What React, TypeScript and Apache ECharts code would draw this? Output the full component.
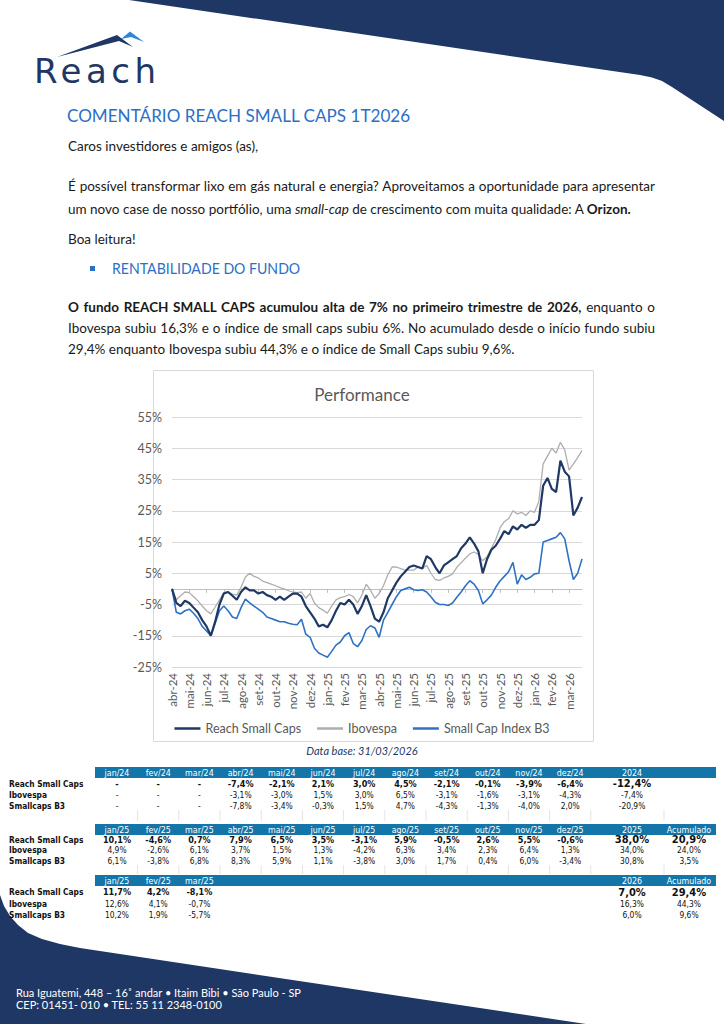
import React, { useEffect, useRef } from "react";
import * as echarts from "echarts";

// ---------- chart data (weekly readings, 4 per month) ----------
const months = [
  "abr-24", "mai-24", "jun-24", "jul-24", "ago-24", "set-24", "out-24", "nov-24",
  "dez-24", "jan-25", "fev-25", "mar-25", "abr-25", "mai-25", "jun-25", "jul-25",
  "ago-25", "set-25", "out-25", "nov-25", "dez-25", "jan-26", "fev-26", "mar-26",
];

const reachSmallCaps = [
  0, -4.5, -5.5, -3.8,
  -4.5, -6, -7.5, -10,
  -12, -15, -10.5, -5,
  -1.5, -1, -2.2, -3.5,
  -1, 0.5, -0.5, -0.5,
  -1.5, -1, -2, -2.5,
  -3.5, -2.5, -3.5, -2.5,
  -1.5, -1.5, -2.5, -5.5,
  -7.5, -9.5, -12, -11.5,
  -12.3, -10, -7, -4.5,
  -5, -3.5, -5, -8,
  -5.5, -2, -5.5, -9.5,
  -10.5, -7.5, -3, -0.5,
  2, 4, 5.5, 7,
  7.5, 7, 6.5, 10.5,
  9.5, 7, 5, 7.5,
  8.5, 9.5, 10.5, 13,
  14.5, 16.5, 14.5, 12,
  5, 9.5, 12.5, 13.8,
  16, 18.5, 17.5, 20,
  19, 20.5, 19.5, 20.5,
  20.5, 22, 33, 35.5,
  32, 31, 41, 37.5,
  36, 23.5, 26, 29.4,
];

const ibovespa = [
  0, -3.5, -2.2, -1,
  -1.2, -2.5, -3.8, -5.5,
  -7, -8, -5.8, -3.5,
  -1.2, -1, -1.7, -2,
  0.5, 3.8, 5, 4,
  3.5, 2.5, 2, 1.5,
  1, 0.4, 0, -0.6,
  -1, -1.2, -1, -3,
  -1.5, -4.5, -6, -6.8,
  -7.8, -5.5, -3.5, -2.8,
  -2.5, -1.8, -2.5, -4.5,
  -2, 1.5, -0.5, -3,
  -1.5, 1, 4.5, 7,
  7, 6.5, 6, 6,
  6, 7, 6.5, 7.5,
  5, 3, 2.7, 3.5,
  4, 4.8, 6.9, 8.4,
  9.8, 11.2, 11.8, 11,
  9, 10.3, 13, 15.7,
  19.5, 21.5, 22.5, 25,
  24, 24.5, 23.5, 25,
  24.5, 28, 40, 42.5,
  45, 43.5, 46.9, 44.5,
  38, 40, 42, 44.3,
];

const smallCapIndexB3 = [
  0, -7.5, -8, -7,
  -6.5, -7.8, -9.5, -12,
  -13.5, -15, -11, -7,
  -5.5, -7, -9, -9.5,
  -6, -3.3, -4.5, -5.5,
  -6.5, -7.5, -9, -9.5,
  -10, -10.5, -10.5, -11,
  -11.3, -11.5, -9.7, -14.5,
  -15.5, -19, -20.5, -21.2,
  -21.9, -20, -18, -17,
  -15, -14, -17.5, -18.5,
  -16.5, -13, -11.8, -12.5,
  -15.5, -10, -7.5, -5,
  -2.5, -0.5, 0, 0.5,
  -0.3, -0.5, -0.3, -1,
  -2.5, -4.3, -5, -5,
  -5.3, -4.5, -2.7, -1,
  1, 2.6, 1.5, -0.5,
  -4.8, -3.5, -2, 0.5,
  2.5, 4, 5.5, 8.5,
  1.5, 4.5, 3, 3.7,
  4.8, 5, 15, 15.5,
  16, 16.5, 18, 16,
  9, 3, 5, 9.6,
];

const seriesNames = ["Reach Small Caps", "Ibovespa", "Small Cap Index B3"];
const rowLabels = ["Reach Small Caps", "Ibovespa", "Smallcaps B3"];

// ---------- monthly return tables ----------
const header2024 = ["jan/24", "fev/24", "mar/24", "abr/24", "mai/24", "jun/24", "jul/24", "ago/24", "set/24", "out/24", "nov/24", "dez/24"];
const reach2024 = ["-", "-", "-", "-7,4%", "-2,1%", "2,1%", "3,0%", "4,5%", "-2,1%", "-0,1%", "-3,9%", "-6,4%"];
const ibov2024 = ["-", "-", "-", "-3,1%", "-3,0%", "1,5%", "3,0%", "6,5%", "-3,1%", "-1,6%", "-3,1%", "-4,3%"];
const small2024 = ["-", "-", "-", "-7,8%", "-3,4%", "-0,3%", "1,5%", "4,7%", "-4,3%", "-1,3%", "-4,0%", "2,0%"];
const year2024 = ["2024", "-12,4%", "-7,4%", "-20,9%"];

const header2025 = ["jan/25", "fev/25", "mar/25", "abr/25", "mai/25", "jun/25", "jul/25", "ago/25", "set/25", "out/25", "nov/25", "dez/25"];
const reach2025 = ["10,1%", "-4,6%", "0,7%", "7,9%", "6,5%", "3,5%", "-3,1%", "5,9%", "-0,5%", "2,6%", "5,5%", "-0,6%"];
const ibov2025 = ["4,9%", "-2,6%", "6,1%", "3,7%", "1,5%", "1,3%", "-4,2%", "6,3%", "3,4%", "2,3%", "6,4%", "1,3%"];
const small2025 = ["6,1%", "-3,8%", "6,8%", "8,3%", "5,9%", "1,1%", "-3,8%", "3,0%", "1,7%", "0,4%", "6,0%", "-3,4%"];
const year2025 = ["2025", "38,0%", "34,0%", "30,8%"];
const accum2025 = ["Acumulado", "20,9%", "24,0%", "3,5%"];

const header2026 = ["jan/25", "fev/25", "mar/25"];
const reach2026 = ["11,7%", "4,2%", "-8,1%"];
const ibov2026 = ["12,6%", "4,1%", "-0,7%"];
const small2026 = ["10,2%", "1,9%", "-5,7%"];
const year2026 = ["2026", "7,0%", "16,3%", "6,0%"];
const accum2026 = ["Acumulado", "29,4%", "44,3%", "9,6%"];

const NAVY = "#1f3764";
const TEAL = "#1475a8";
const TITLE_BLUE = "#2c6fc6";
const NARROW = "'Liberation Sans Narrow', 'Arial Narrow', 'DejaVu Sans Condensed', sans-serif";
const BODY = "Lato, 'Noto Sans', sans-serif";

const categories = months.flatMap((m) => [m, `${m} s2`, `${m} s3`, `${m} s4`]);

function txt(x: number, y: number, text: string, size: number, opts: any = {}) {
  return {
    type: "text",
    x,
    y,
    silent: true,
    style: {
      text,
      fill: opts.fill || "#111",
      fontSize: size,
      fontWeight: opts.bold ? "bold" : "normal",
      fontStyle: opts.italic ? "italic" : "normal",
      fontFamily: opts.font || NARROW,
      textAlign: opts.align || "center",
      textVerticalAlign: "middle",
      align: opts.align || "center",
      verticalAlign: "middle",
    },
  };
}

function buildTable(
  g: any[],
  barY: number,
  rowYs: number[],
  header: string[],
  rows: string[][],
  year: string[],
  accum: string[] | null
) {
  const colX = (k: number) => 117 + 41.2 * k;
  g.push({ type: "rect", shape: { x: 95, y: barY, width: 621, height: 11 }, style: { fill: TEAL }, silent: true });
  const hy = barY + 5.5;
  header.forEach((h, k) => g.push(txt(colX(k), hy, h, 8.8, { fill: "#fff" })));
  g.push(txt(632, hy, year[0], 8.8, { fill: "#fff" }));
  if (accum) g.push(txt(689, hy, accum[0], 8.8, { fill: "#fff" }));
  rows.forEach((row, r) => {
    const y = rowYs[r];
    const bold = r === 0;
    g.push(txt(9, y, rowLabels[r], 8.3, { bold: true, align: "left" }));
    row.forEach((v, k) => g.push(txt(colX(k), y, v, bold ? 9 : 8.4, { bold })));
    g.push(txt(632, y, year[r + 1], bold ? 11 : 8.4, { bold }));
    if (accum) g.push(txt(689, y, accum[r + 1], bold ? 11 : 8.4, { bold }));
  });
}

function buildGraphics() {
  const g: any[] = [];
  // header band
  g.push({
    type: "polygon",
    silent: true,
    shape: { points: [[129, 0], [640, 75], [652, 77.5], [662, 81], [672, 87], [724, 121], [724, 0]] },
    style: { fill: NAVY },
  });
  // footer band
  g.push({
    type: "polygon",
    silent: true,
    shape: {
      points: [[0, 895], [4, 906], [10, 916], [18, 925], [28, 933], [42, 939], [60, 944], [80, 948], [586, 1024], [0, 1024]],
    },
    style: { fill: NAVY },
  });
  // logo mountains
  g.push({ type: "polygon", silent: true, shape: { points: [[57, 57], [117, 35], [133, 47], [119, 41]] }, style: { fill: NAVY } });
  g.push({ type: "polygon", silent: true, shape: { points: [[121, 39], [130, 31.5], [144, 42], [131, 37]] }, style: { fill: "#2f86d6" } });
  // chart frame
  g.push({ type: "rect", silent: true, shape: { x: 153.5, y: 370.5, width: 440, height: 371 }, style: { fill: "none", stroke: "#d9d9d9", lineWidth: 1 } });
  g.push(txt(362, 750, "Data base: 31/03/2026", 11, { italic: true, fill: NAVY, font: BODY }));
  // tables
  buildTable(g, 767, [783.5, 795, 806], header2024, [reach2024, ibov2024, small2024], year2024, null);
  buildTable(g, 824, [839.5, 850, 860.5], header2025, [reach2025, ibov2025, small2025], year2025, accum2025);
  buildTable(g, 875, [892, 904, 914.5], header2026, [reach2026, ibov2026, small2026], year2026, accum2026);
  // faint cell separators
  const seps = [...Array.from({ length: 12 }, (_, k) => 137.6 + 41.2 * k), 664];
  seps.forEach((x) => {
    g.push({ type: "line", silent: true, shape: { x1: x, y1: 810, x2: x, y2: 821 }, style: { stroke: "#e4e4e4", lineWidth: 1 } });
    g.push({ type: "line", silent: true, shape: { x1: x, y1: 865, x2: x, y2: 874 }, style: { stroke: "#e4e4e4", lineWidth: 1 } });
  });
  // footer text
  g.push(txt(16, 992.5, "Rua Iguatemi, 448 – 16˚ andar • Itaim Bibi • São Paulo - SP", 11, { fill: "#fff", align: "left", font: BODY }));
  g.push(txt(16, 1004.5, "CEP: 01451- 010 • TEL: 55 11 2348-0100", 11, { fill: "#fff", align: "left", font: BODY }));
  return g;
}

function buildOption() {
  return {
    animation: false,
    textStyle: { fontFamily: BODY },
    title: {
      text: "Performance",
      left: "center",
      top: 381,
      textStyle: { fontSize: 17, fontWeight: "normal", color: "#595959", fontFamily: BODY },
    },
    grid: { left: 172, top: 417, width: 410, height: 250, containLabel: false },
    legend: {
      top: 717,
      left: "center",
      itemWidth: 26,
      itemHeight: 2.5,
      itemGap: 16,
      textStyle: { fontSize: 12.5, color: "#595959" },
      data: seriesNames.map((n) => ({ name: n, icon: "rect" })),
    },
    xAxis: {
      type: "category",
      data: categories,
      boundaryGap: false,
      axisLine: { lineStyle: { color: "#bfbfbf" } },
      axisTick: { show: true, interval: 3, length: 4, lineStyle: { color: "#bfbfbf" } },
      axisLabel: {
        interval: 3,
        rotate: 90,
        margin: 6,
        fontSize: 11.5,
        color: "#595959",
        formatter: (v: string) => v.split(" ")[0],
      },
      splitLine: { show: false },
    },
    yAxis: {
      type: "value",
      min: -25,
      max: 55,
      interval: 10,
      axisLine: { show: false },
      axisTick: { show: false },
      axisLabel: { formatter: "{value}%", fontSize: 12.5, color: "#595959", margin: 10 },
      splitLine: { lineStyle: { color: "#d9d9d9", width: 1 } },
    },
    series: [
      {
        name: seriesNames[0],
        type: "line",
        data: reachSmallCaps,
        showSymbol: false,
        symbol: "none",
        z: 4,
        color: "#1f3864",
        lineStyle: { width: 2.2, color: "#1f3864" },
      },
      {
        name: seriesNames[1],
        type: "line",
        data: ibovespa,
        showSymbol: false,
        symbol: "none",
        z: 3,
        color: "#aeaeae",
        lineStyle: { width: 1.3, color: "#aeaeae" },
      },
      {
        name: seriesNames[2],
        type: "line",
        data: smallCapIndexB3,
        showSymbol: false,
        symbol: "none",
        z: 2,
        color: "#2e72c4",
        lineStyle: { width: 1.6, color: "#2e72c4" },
      },
    ],
    graphic: { elements: buildGraphics() },
  };
}

const line: React.CSSProperties = {
  position: "absolute",
  left: 68,
  width: 587,
  fontFamily: BODY,
  fontSize: 13.5,
  lineHeight: "16px",
  color: "#1a1a1a",
  margin: 0,
  whiteSpace: "nowrap",
};
const justified: React.CSSProperties = { ...line, textAlign: "justify", textAlignLast: "justify" as any };

export default function App() {
  const ref = useRef<HTMLDivElement>(null);
  useEffect(() => {
    if (!ref.current) return;
    const chart = echarts.init(ref.current, null, { renderer: "svg" });
    chart.setOption(buildOption() as any);
    return () => chart.dispose();
  }, []);

  return (
    <div style={{ position: "absolute", left: 0, top: 0, width: 724, height: 1024, overflow: "hidden", background: "#fff" }}>
      <div ref={ref} style={{ position: "absolute", left: 0, top: 0, width: 724, height: 1024 }} />
      <div
        style={{
          position: "absolute",
          left: 34,
          top: 50,
          fontFamily: "'DejaVu Sans', sans-serif",
          fontSize: 34,
          lineHeight: "42px",
          letterSpacing: 4.5,
          color: NAVY,
        }}
      >
        Reach
      </div>
      <div
        style={{
          position: "absolute",
          left: 67,
          top: 104,
          fontFamily: BODY,
          fontSize: 18,
          lineHeight: "22px",
          color: TITLE_BLUE,
          whiteSpace: "nowrap",
          transform: "scaleX(0.95)",
          transformOrigin: "0 0",
        }}
      >
        COMENTÁRIO REACH SMALL CAPS 1T2026
      </div>
      <div style={{ ...line, top: 138 }}>Caros investidores e amigos (as),</div>
      <div style={{ ...justified, top: 178 }}>
        É possível transformar lixo em gás natural e energia? Aproveitamos a oportunidade para apresentar
      </div>
      <div style={{ ...line, top: 201 }}>
        um novo case de nosso portfólio, uma <i>small-cap</i> de crescimento com muita qualidade: A <b>Orizon.</b>
      </div>
      <div style={{ ...line, top: 231 }}>Boa leitura!</div>
      <div style={{ position: "absolute", left: 90, top: 266, width: 5, height: 5, background: TITLE_BLUE }} />
      <div
        style={{
          position: "absolute",
          left: 112,
          top: 258,
          fontFamily: BODY,
          fontSize: 15.5,
          lineHeight: "20px",
          color: TITLE_BLUE,
          whiteSpace: "nowrap",
          transform: "scaleX(0.91)",
          transformOrigin: "0 0",
        }}
      >
        RENTABILIDADE DO FUNDO
      </div>
      <div style={{ ...justified, top: 299 }}>
        <b>O fundo REACH SMALL CAPS acumulou alta de 7% no primeiro trimestre de 2026,</b> enquanto o
      </div>
      <div style={{ ...justified, top: 320 }}>
        Ibovespa subiu 16,3% e o índice de small caps subiu 6%. No acumulado desde o início fundo subiu
      </div>
      <div style={{ ...line, top: 341 }}>
        29,4% enquanto Ibovespa subiu 44,3% e o índice de Small Caps subiu 9,6%.
      </div>
    </div>
  );
}
